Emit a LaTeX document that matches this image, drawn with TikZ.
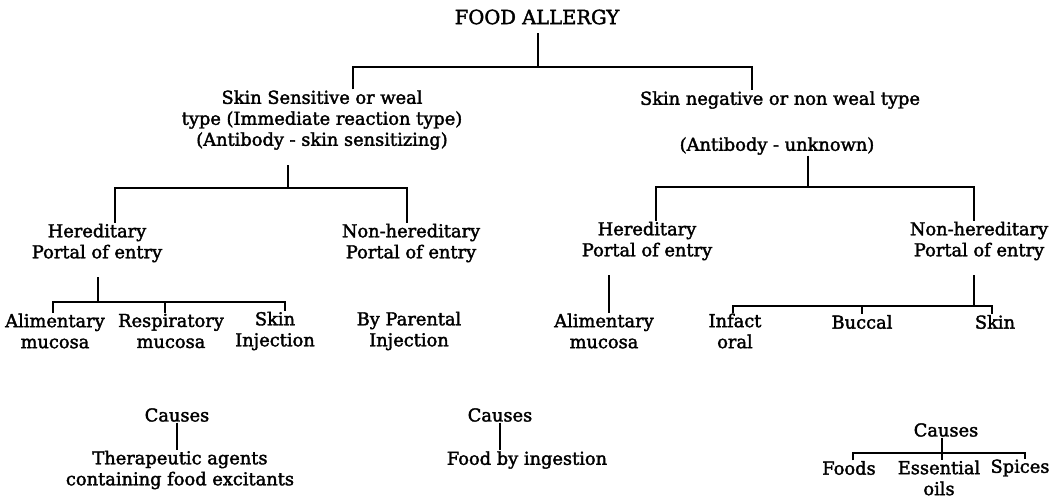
\documentclass[tikz,border=0pt]{standalone}
\usepackage{fontspec}
\setmainfont{DejaVu Serif}[BoldFont={DejaVu Serif}, BoldFeatures={FakeBold=2}]
\usetikzlibrary{positioning}

\begin{document}
\begin{tikzpicture}[x=1pt, y=-1pt, line width=1.6pt, font=\fontsize{17.8}{21}\selectfont\bfseries, txt/.style={inner sep=0pt, align=center}]
\useasboundingbox (0,0) rectangle (1059,498);
% labels
\node[txt, font=\fontsize{19.5}{21}\selectfont\bfseries] (food) at (537,17) {FOOD ALLERGY};
\node[txt] (sens) at (322,120) {Skin Sensitive or weal\\type (Immediate reaction type)\\(Antibody - skin sensitizing)};
\node[txt] (neg) at (780,100) {Skin negative or non weal type};
\node[txt] (negab) at (777,146) {(Antibody - unknown)};
\node[txt] (lher) at (97,243) {Hereditary\\Portal of entry};
\node[txt] (lnon) at (411,243) {Non-hereditary\\Portal of entry};
\node[txt] (rher) at (647,241) {Hereditary\\Portal of entry};
\node[txt] (rnon) at (979,241) {Non-hereditary\\Portal of entry};
\node[txt] (alim1) at (55,331) {Alimentary\\mucosa};
\node[txt] (resp) at (171,331) {Respiratory\\mucosa};
\node[txt] (skin1) at (275,331) {Skin\\Injection};
\node[txt] (paren) at (409,331) {By Parental\\Injection};
\node[txt] (alim2) at (604,331) {Alimentary\\mucosa};
\node[txt] (intact) at (735,331) {Infact\\oral};
\node[txt] (buccal) at (862,322) {Buccal};
\node[txt] (skin2) at (995,322) {Skin};
\node[txt] (causes1) at (177,415) {Causes};
\node[txt] (ther) at (180,470) {Therapeutic agents\\containing food excitants};
\node[txt] (causes2) at (500,415) {Causes};
\node[txt] (ingest) at (527,460) {Food by ingestion};
\node[txt] (causes3) at (946,430) {Causes};
\node[txt] (foods) at (849,468) {Foods};
\node[txt] (essential) at (939,478) {Essential\\oils};
\node[txt] (spices) at (1020,468) {Spices};
% forks
\coordinate (f1) at (538,67);
\coordinate (f1l) at (353,67);
\coordinate (f1r) at (752,67);
\draw ([yshift=-8pt]food.south -| f1) -- (f1);
\draw (f1l |- sens.north) -- (f1l) -- (f1r) -- (f1r |- neg.north);
\coordinate (f2t) at (288,165);
\coordinate (f2) at (288,188);
\coordinate (f2l) at (115,188);
\coordinate (f2r) at (407,188);
\draw (f2t) -- (f2);
\draw (f2l |- lher.north) -- (f2l) -- (f2r) -- (f2r |- lnon.north);
\coordinate (f3) at (808,187);
\coordinate (f3l) at (656,187);
\coordinate (f3r) at (974,187);
\draw (f3 |- negab.south) -- (f3);
\draw (f3l |- rher.north) -- (f3l) -- (f3r) -- (f3r |- rnon.north);
\coordinate (f4t) at (98,277);
\coordinate (f4) at (98,302);
\coordinate (f4l) at (53,302);
\coordinate (f4m) at (165,302);
\coordinate (f4r) at (285,302);
\draw (f4t) -- (f4);
\draw (f4l |- alim1.north) -- (f4l) -- (f4r) -- (f4r |- skin1.north);
\draw (f4m) -- (f4m |- resp.north);
\coordinate (f5) at (609,275);
\draw (f5) -- (f5 |- alim2.north);
\coordinate (f6t) at (974,275);
\coordinate (f6) at (974,306);
\coordinate (f6l) at (733,306);
\coordinate (f6m) at (862,306);
\coordinate (f6r) at (992,306);
\draw (f6t) -- (f6);
\draw (f6l |- intact.north) -- (f6l) -- (f6r) -- (f6r |- skin2.north);
\draw (f6m) -- (f6m |- buccal.north);
\draw (causes1.south) -- (causes1.south |- ther.north);
\draw (causes2.south) -- (causes2.south |- ingest.north);
\coordinate (f7) at (942,453);
\coordinate (f7l) at (853,453);
\coordinate (f7r) at (1025,453);
\draw (causes3.south -| f7) -- (f7);
\draw (f7l |- foods.north) -- (f7l) -- (f7r) -- (f7r |- spices.north);
\draw (f7) -- (f7 |- essential.north);
\end{tikzpicture}
\end{document}
